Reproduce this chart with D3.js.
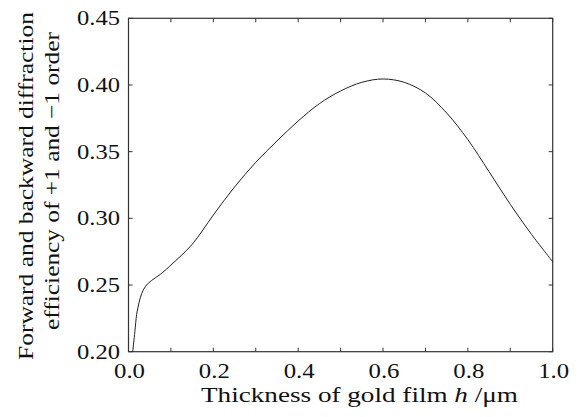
<!DOCTYPE html>
<html><head><meta charset="utf-8">
<script src="https://cdn.jsdelivr.net/npm/d3@7"></script>
<style>body{margin:0;background:#fff}svg{display:block}</style>
</head><body><svg id="c" width="582" height="417"></svg>
<script>
const thickness = [0.0099,0.015,0.0193,0.025,0.031,0.04,0.0547,0.075,0.10,0.15,0.20,0.25,0.30,0.35,0.40,0.45,0.50,0.55,0.60,0.65,0.70,0.75,0.80,0.85,0.90,0.95,1.00];
const efficiency = [0.200,0.215,0.228,0.237,0.2435,0.249,0.2535,0.258,0.2650,0.2805,0.3025,0.3235,0.3420,0.3580,0.3730,0.3860,0.3955,0.4020,0.4045,0.4020,0.3940,0.3790,0.3590,0.3350,0.3105,0.2880,0.2675];
const xTicks = [0,0.2,0.4,0.6,0.8,1.0];
const xMinor = [0,0.1,0.2,0.3,0.4,0.5,0.6,0.7,0.8,0.9,1.0];
const yTicks = [0.20,0.25,0.30,0.35,0.40,0.45];
const xLabel = "Thickness of gold film ";
const yLabel1 = "Forward and backward diffraction";
const yLabel2 = "efficiency of +1 and \u22121 order";

const svg = d3.select("#c");
const L=128.5,R=552.7,T=18.3,B=351.7;
const x = d3.scaleLinear().domain([0,1]).range([L,R]);
const y = d3.scaleLinear().domain([0.20,0.45]).range([B,T]);

svg.append("rect").attr("x",L).attr("y",T).attr("width",R-L).attr("height",B-T)
  .attr("fill","none").attr("stroke","#333").attr("stroke-width",1.2);

const tk=4;
svg.append("g").selectAll("line").data(xMinor).join("line")
  .attr("x1",d=>x(d)).attr("x2",d=>x(d)).attr("y1",B).attr("y2",B-tk).attr("stroke","#333");
svg.append("g").selectAll("line").data(xMinor).join("line")
  .attr("x1",d=>x(d)).attr("x2",d=>x(d)).attr("y1",T).attr("y2",T+tk).attr("stroke","#333");
svg.append("g").selectAll("line").data(yTicks).join("line")
  .attr("x1",L).attr("x2",L+tk).attr("y1",d=>y(d)).attr("y2",d=>y(d)).attr("stroke","#333");
svg.append("g").selectAll("line").data(yTicks).join("line")
  .attr("x1",R).attr("x2",R-tk).attr("y1",d=>y(d)).attr("y2",d=>y(d)).attr("stroke","#333");

// text placed at an anchor, stretched horizontally (along its baseline) to the reference width
function label(px, py, rot, anchor, size, width, build){
  const g = svg.append("g");
  const t = g.append("text").attr("x",0).attr("y",0).attr("text-anchor",anchor)
    .style("font-family","'Liberation Serif'").attr("font-size",size).attr("fill","#111");
  build(t);
  let sx = 1;
  try { const w = t.node().getComputedTextLength(); if (w>0) sx = Math.max(1, Math.min(1.4, width/w)); } catch(e){}
  g.attr("transform",`translate(${px},${py}) rotate(${rot}) scale(${sx},1)`);
  return t;
}

xTicks.forEach(d => label(x(d)+1, 378, 0, "middle", 20.5, 31, t=>t.text(d.toFixed(1))));
yTicks.forEach(d => label(120, y(d)+7, 0, "end", 20.5, 43, t=>t.text(d.toFixed(2))));

label(359.5, 402, 0, "middle", 21.5, 317, t=>{
  t.append("tspan").text(xLabel);
  t.append("tspan").attr("font-style","italic").text("h");
  t.append("tspan").text(" /\u03bcm");
});
label(33, 186, -90, "middle", 21.5, 348, t=>t.text(yLabel1));
label(59, 181, -90, "middle", 21.5, 298, t=>t.text(yLabel2));

const pts = thickness.map((t,i)=>[t,efficiency[i]]);
svg.append("path").datum(pts)
  .attr("d",d3.line().x(d=>x(d[0])).y(d=>y(d[1])).curve(d3.curveCatmullRom))
  .attr("fill","none").attr("stroke","#222").attr("stroke-width",1);
</script></body></html>
